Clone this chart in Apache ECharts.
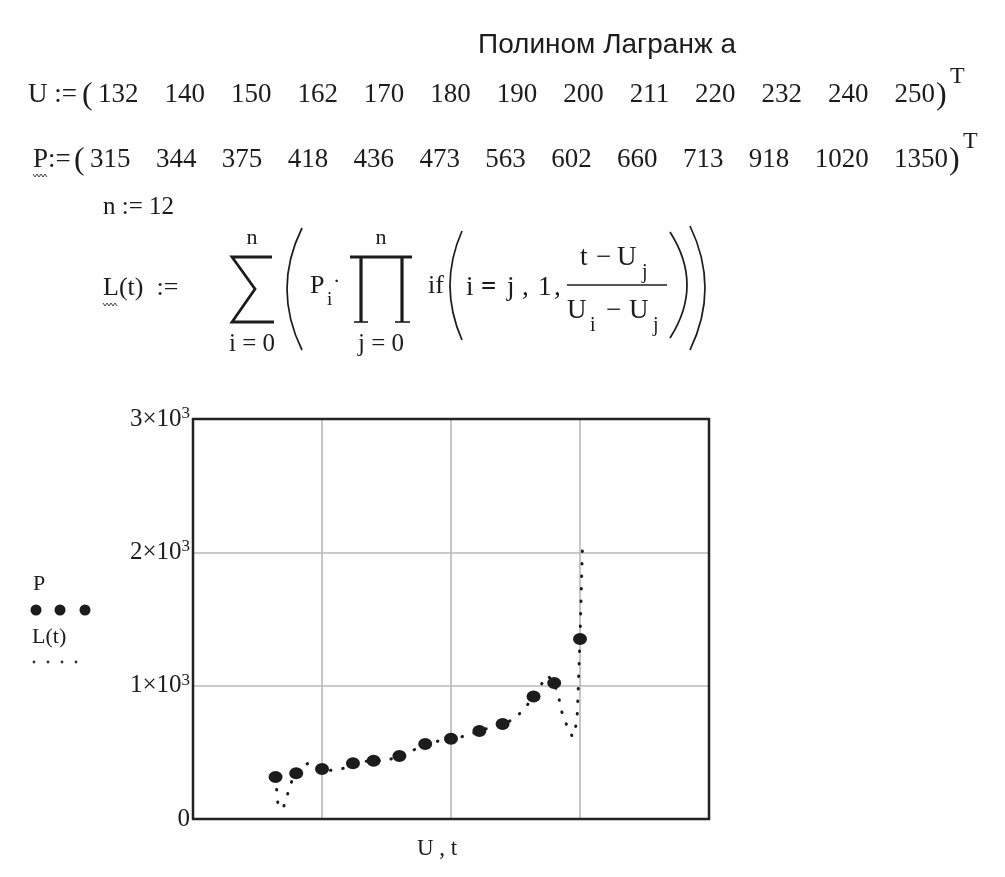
<!DOCTYPE html>
<html>
<head>
<meta charset="utf-8">
<script src="https://cdn.jsdelivr.net/npm/echarts@6/dist/echarts.min.js"></script>
<style>
  html, body { margin: 0; padding: 0; background: #fefefe; }
  #chart { width: 1005px; height: 877px; }
</style>
</head>
<body>
<div id="chart"></div>
<script>
// исходные данные (узлы интерполяции)
const U = [132, 140, 150, 162, 170, 180, 190, 200, 211, 220, 232, 240, 250];
const P = [315, 344, 375, 418, 436, 473, 563, 602, 660, 713, 918, 1020, 1350];

// L(t) — точки пунктирной кривой
const tValues = [132, 133, 134, 135, 136, 137, 138, 139, 140, 142, 145, 148, 150, 153, 156, 159, 162, 166, 170, 175, 180, 185, 190, 195, 200, 205, 211, 215, 220, 224, 228, 232, 235, 237.5, 240, 242, 243, 245, 247, 248, 249, 250, 251];
const lValues = [315, 90, 80, 85, 140, 210, 270, 315, 344, 395, 420, 398, 375, 365, 368, 384, 418, 432, 436, 438, 473, 512, 563, 584, 602, 620, 660, 686, 713, 745, 815, 918, 1010, 1075, 1020, 890, 800, 695, 620, 640, 800, 1350, 2070];

// подписи оси Y
const yTickValues = [0, 1000, 2000, 3000];
const yTickLabels = ['0', '1×10', '2×10', '3×10'];

const INK = '#1c1c1c';
const SERIF = '"Liberation Serif", "Times New Roman", serif';

const ctx = document.createElement('canvas').getContext('2d');
const measure = (s, size) => {
  ctx.font = size + 'px ' + SERIF;
  return ctx.measureText(s).width;
};

// текстовый элемент graphic
const txt = (text, x, y, size, extra) => ({
  type: 'text', x, y, silent: true, z: 20,
  style: Object.assign({
    text, fontFamily: SERIF, fontSize: size, fill: INK,
    textAlign: 'left', align: 'left',
    textVerticalAlign: 'middle', verticalAlign: 'middle'
  }, extra || {})
});
const center = { textAlign: 'center', align: 'center' };

const line = (x1, y1, x2, y2, w) => ({
  type: 'line', silent: true, z: 20,
  shape: { x1, y1, x2, y2 },
  style: { stroke: INK, lineWidth: w || 1.5 }
});

// волнистое подчёркивание Mathcad
const squiggle = (x, y, w) => {
  const pts = [];
  for (let i = 0; i <= w; i += 2) pts.push([x + i, y + (i % 4 === 0 ? 0 : 3)]);
  return { type: 'polyline', silent: true, z: 20, shape: { points: pts }, style: { stroke: '#444', lineWidth: 1, fill: null } };
};

const paren = (x, top, bottom, bulge, w) => ({
  type: 'bezierCurve', silent: true, z: 20,
  shape: { x1: x, y1: top, x2: x, y2: bottom, cpx1: x + bulge, cpy1: (top + bottom) / 2 },
  style: { stroke: INK, lineWidth: w || 1.7, fill: null }
});

// строка вектора: U := (132 140 ... )ᵀ
const vectorRow = (head, values, y, nameX, numStart, numEnd, size) => {
  const strs = values.map(String);
  const widths = strs.map(s => measure(s, size));
  const total = widths.reduce((a, b) => a + b, 0);
  const gap = (numEnd - numStart - total) / (strs.length - 1);
  const els = [txt(head, nameX, y, size), txt('(', numStart - 16, y + 1, size + 5)];
  let x = numStart;
  strs.forEach((s, i) => { els.push(txt(s, x, y, size)); x += widths[i] + gap; });
  els.push(txt(')', numEnd + 1, y + 1, size + 5));
  els.push(txt('T', numEnd + 15, y - 18, size - 3));
  return els;
};

const graphics = [];
graphics.push(txt('Т', 36, -6, 24));
graphics.push(txt('Полином Лагранж а', 607, 45, 28, Object.assign({ fontFamily: '"Liberation Sans", Arial, sans-serif' }, center)));
graphics.push(...vectorRow('U := ', U, 95, 28, 98, 935, 27));
graphics.push(...vectorRow('P:= ', P, 160, 33, 90, 948, 27));
graphics.push(squiggle(33, 174, 14));

// n := 12
graphics.push(txt('n := 12', 103, 207, 25));

// L(t) := Σ ( P_i · Π if( i ≡ j, 1, (t − U_j)/(U_i − U_j) ) )
const fy = 288;
graphics.push(txt('L(t)  :=', 103, fy, 26));
graphics.push(squiggle(103, fy + 15, 14));
// сумма
graphics.push({ type: 'polyline', silent: true, z: 20, shape: { points: [[272, 257], [232, 257], [255, 289], [232, 322], [274, 322]] }, style: { stroke: INK, lineWidth: 2.8, fill: null } });
graphics.push(txt('n', 252, 238, 22, center));
graphics.push(txt('i = 0', 252, 344, 25, center));
graphics.push(paren(302, 228, 350, -30));
graphics.push(txt('P', 310, fy - 2, 26));
graphics.push(txt('i', 327, fy + 12, 19));
graphics.push(txt('·', 333, fy - 6, 22));
// произведение
graphics.push(line(350, 257, 412, 257, 3));
graphics.push(line(361, 257, 361, 322, 3.2));
graphics.push(line(402, 257, 402, 322, 3.2));
graphics.push(line(354, 322, 368, 322, 1.6));
graphics.push(line(395, 322, 410, 322, 1.6));
graphics.push(txt('n', 381, 238, 22, center));
graphics.push(txt('j = 0', 381, 344, 25, center));
graphics.push(txt('if', 428, fy - 2, 26));
graphics.push(paren(462, 231, 340, -24));
graphics.push(txt('i', 466, fy, 27));
graphics.push(txt('=', 481, fy, 27, { fontWeight: 'bold' }));
graphics.push(txt('j', 507, fy, 27));
graphics.push(txt(',', 522, fy, 27));
graphics.push(txt('1', 538, fy, 27));
graphics.push(txt(',', 554, fy, 27));
// дробь
graphics.push(txt('t', 580, 258, 27));
graphics.push(txt('−', 596, 258, 27));
graphics.push(txt('U', 617, 258, 27));
graphics.push(txt('j', 642, 273, 20));
graphics.push(line(567, 285, 667, 285, 1.5));
graphics.push(txt('U', 567, 311, 27));
graphics.push(txt('i', 590, 326, 20));
graphics.push(txt('−', 606, 311, 27));
graphics.push(txt('U', 629, 311, 27));
graphics.push(txt('j', 653, 326, 20));
graphics.push(paren(670, 232, 338, 34));
graphics.push(paren(690, 226, 350, 30));

// легенда слева
graphics.push(txt('P', 33, 584, 22));
[36, 60, 85].forEach(x => graphics.push({ type: 'circle', silent: true, z: 20, shape: { cx: x, cy: 610, r: 5.5 }, style: { fill: INK } }));
graphics.push(txt('L(t)', 32, 637, 22));
[34, 48, 62, 76].forEach(x => graphics.push({ type: 'circle', silent: true, z: 20, shape: { cx: x, cy: 662, r: 1.4 }, style: { fill: '#333' } }));

// подпись оси X
graphics.push(txt('U , t', 437, 849, 23, center));

// рамка графика поверх линий сетки
graphics.push({ type: 'rect', silent: true, z: 30, shape: { x: 193, y: 419, width: 516, height: 400 }, style: { fill: null, stroke: '#222', lineWidth: 2.5 } });

const chart = echarts.init(document.getElementById('chart'), null, { renderer: 'canvas' });

chart.setOption({
  backgroundColor: '#fefefe',
  animation: false,
  grid: { left: 193, right: 296, top: 419, bottom: 58 },
  xAxis: {
    type: 'value', min: 100, max: 300, interval: 50,
    axisLine: { show: false }, axisTick: { show: false }, axisLabel: { show: false },
    splitLine: { show: true, lineStyle: { color: '#b8b8b8', width: 1.6 } }
  },
  yAxis: {
    type: 'value', min: 0, max: 3000, interval: 1000,
    axisLine: { show: false }, axisTick: { show: false },
    splitLine: { show: true, lineStyle: { color: '#b8b8b8', width: 1.6 } },
    axisLabel: {
      margin: 3, color: INK, fontFamily: SERIF, fontSize: 25,
      formatter: v => {
        const s = yTickLabels[yTickValues.indexOf(v)];
        return v === 0 ? '{b|' + s + '}' : '{b|' + s + '}{s|3}';
      },
      rich: {
        b: { fontFamily: SERIF, fontSize: 25, color: INK, lineHeight: 28 },
        s: { fontFamily: SERIF, fontSize: 17, color: INK, lineHeight: 17, verticalAlign: 'top' }
      }
    }
  },
  series: [
    {
      name: 'L(t)', type: 'line', z: 2,
      data: tValues.map((t, i) => [t, lValues[i]]),
      showSymbol: false, smooth: false,
      lineStyle: { color: INK, width: 3, type: [0.5, 12], cap: 'round' }
    },
    {
      name: 'P', type: 'scatter', z: 3,
      data: U.map((u, i) => [u, P[i]]),
      symbol: 'circle', symbolSize: [14, 12],
      itemStyle: { color: INK, opacity: 1 }
    }
  ],
  graphic: { elements: graphics }
});
</script>
</body>
</html>
